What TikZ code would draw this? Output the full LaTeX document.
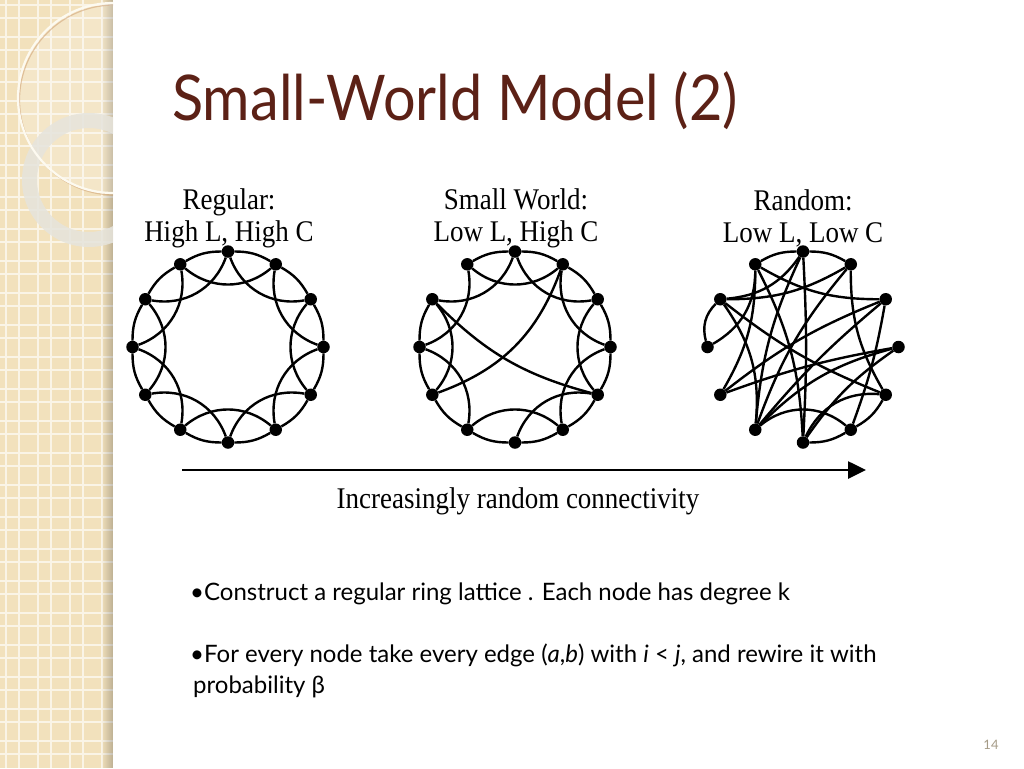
\documentclass[tikz,border=0pt]{standalone}
\usepackage{fontspec}
\setmainfont{Lato}
\newfontfamily\titlefont{Lato}[FakeStretch=0.915]
\newfontfamily\figfont{Liberation Serif}[FakeStretch=0.9]
\usetikzlibrary{arrows.meta}
\definecolor{sidebar}{RGB}{242,225,188}
\definecolor{gridline}{RGB}{250,244,230}
\definecolor{titlecol}{RGB}{92,33,22}
\definecolor{pagenum}{RGB}{165,155,135}
\definecolor{ringgray}{RGB}{230,228,220}
\definecolor{ringline}{RGB}{253,250,240}
\begin{document}
\begin{tikzpicture}[x=1pt,y=-1pt,
  dot/.style={circle,fill=black,inner sep=0pt,minimum size=12.5pt},
  edge/.style={line width=2.4pt,black},
  figlabel/.style={font=\figfont\fontsize{30}{32}\selectfont,align=center,inner sep=0pt},
  bullet/.style={anchor=base west,inner sep=0pt,font=\fontsize{24}{30}\selectfont}]
\useasboundingbox (0,0) rectangle (1024,768);
\fill[white] (0,0) rectangle (1024,768);
% ---------- sidebar ----------
\fill[sidebar] (0,0) rectangle (113,768);
\begin{scope}
  \clip (0,0) rectangle (113,768);
  \foreach \k in {0,...,3} {
    \draw[gridline,line width=1.3pt] ({6+32*\k},0) -- ++(0,768);
    \draw[gridline,line width=1.3pt] ({19+32*\k},0) -- ++(0,768);
  }
  \foreach \k in {0,...,24} {
    \draw[gridline,line width=1.3pt] (0,{5+32*\k}) -- ++(113,0);
    \draw[gridline,line width=1.3pt] (0,{18+32*\k}) -- ++(113,0);
  }
  \foreach \i in {0,...,11} {
    \fill[black,opacity={0.018*\i}] ({101+\i},0) rectangle ({102+\i},768);
  }
  \fill[white,opacity=0.18] (113,98) circle (94);
  \fill[ringgray,opacity=0.85,even odd rule] (89,180) circle (67) (89,180) circle (52);
  \draw[brown!70,opacity=0.6,line width=1.2pt] (114.5,100) circle (95);
  \draw[ringline,line width=2.2pt] (113,98) circle (95);
\end{scope}
% ---------- title ----------
\node[anchor=base west,inner sep=0pt,text=titlecol,font=\titlefont\fontsize{63}{63}\selectfont] (title) at (172,120) {Small-World Model (2)};
% ---------- labels ----------
\node[figlabel] (labR) at (229,218) {Regular:\\High L, High C};
\node[figlabel] (labS) at (516,218) {Small World:\\Low L, High C};
\node[figlabel] (labX) at (803,218) {Random:\\Low L, Low C};
% ---------- nodes ----------
\foreach \i in {0,...,11} {
  \node[dot] (R\i) at ({228+95.5*cos(30*\i)},{347-95.5*sin(30*\i)}) {};
  \node[dot] (S\i) at ({515+95.5*cos(30*\i)},{347-95.5*sin(30*\i)}) {};
  \node[dot] (X\i) at ({803+95.5*cos(30*\i)},{347-95.5*sin(30*\i)}) {};
}
% ---------- regular ----------
\foreach \i in {0,...,11} {
  \pgfmathtruncatemacro{\j}{mod(\i+1,12)}
  \pgfmathtruncatemacro{\k}{mod(\i+2,12)}
  \draw[edge] (R\i) to[bend right=15] (R\j);
  \draw[edge] (R\i) to[bend left=40] (R\k);
}
% ---------- small world ----------
\foreach \a/\b in {0/1,1/2,2/3,3/4,5/6,6/7,7/8,8/9,9/10,10/11,11/0} {
  \draw[edge] (S\a) to[bend right=15] (S\b);
}
\foreach \a/\b in {0/2,1/3,2/4,3/5,4/6,5/7,6/8,8/10,9/11,10/0,11/1} {
  \draw[edge] (S\a) to[bend left=40] (S\b);
}
\draw[edge] (S5) to[bend right=15] (S11);
\draw[edge] (S7) to[bend right=25] (S2);
% ---------- random ----------
\draw[edge] (X2) to[bend right=15] (X3);
\draw[edge] (X3) to[bend right=15] (X4);
\draw[edge] (X5) to[bend right=30] (X6);
\draw[edge] (X9) to[bend right=15] (X10);
\draw[edge] (X10) to[bend right=15] (X11);
\draw[edge] (X7) to[bend left=5] (X0);
\draw[edge] (X8) to[bend left=15] (X0);
\draw[edge] (X9) to[bend left=10] (X0);
\draw[edge] (X4) to[bend right=15] (X1);
\draw[edge] (X8) to[bend left=5] (X1);
\draw[edge] (X10) to[bend right=5] (X1);
\draw[edge] (X7) to[bend left=8] (X1);
\draw[edge] (X2) to[bend left=15] (X5);
\draw[edge] (X2) to[bend right=10] (X8);
\draw[edge] (X2) to[bend right=15] (X11);
\draw[edge] (X3) to[bend left=3] (X9);
\draw[edge] (X3) to[bend right=10] (X8);
\draw[edge] (X5) to[bend right=25] (X3);
\draw[edge] (X4) to[bend left=30] (X6);
\draw[edge] (X4) to[bend left=12] (X9);
\draw[edge] (X4) to[bend left=15] (X7);
\draw[edge] (X5) to[bend right=8] (X11);
\draw[edge] (X5) to[bend left=20] (X8);
\draw[edge] (X8) to[bend left=40] (X10);
\draw[edge] (X9) to[bend left=35] (X11);
% ---------- arrow ----------
\coordinate (arS) at (182,470);
\coordinate (arE) at (866,470);
\draw[line width=2.6pt,-{Triangle[length=18pt,width=17pt]}] (arS) -- (arE);
\node[figlabel] (arlab) at (518,501) {Increasingly random connectivity};
% ---------- bullets ----------
\node[bullet] (b1) at (190,600) {•Construct a regular ring lattice . Each node has degree k};
\node[bullet] (b2) at (190,662) {•For every node take every edge (\textit{a},\textit{b}) with \textit{i} < \textit{j}, and rewire it with};
\node[bullet] (b3) at (193,693) {probability β};
\node[text=pagenum,font=\fontsize{13}{13}\selectfont] (pg) at (991,745) {14};
\end{tikzpicture}
\end{document}
